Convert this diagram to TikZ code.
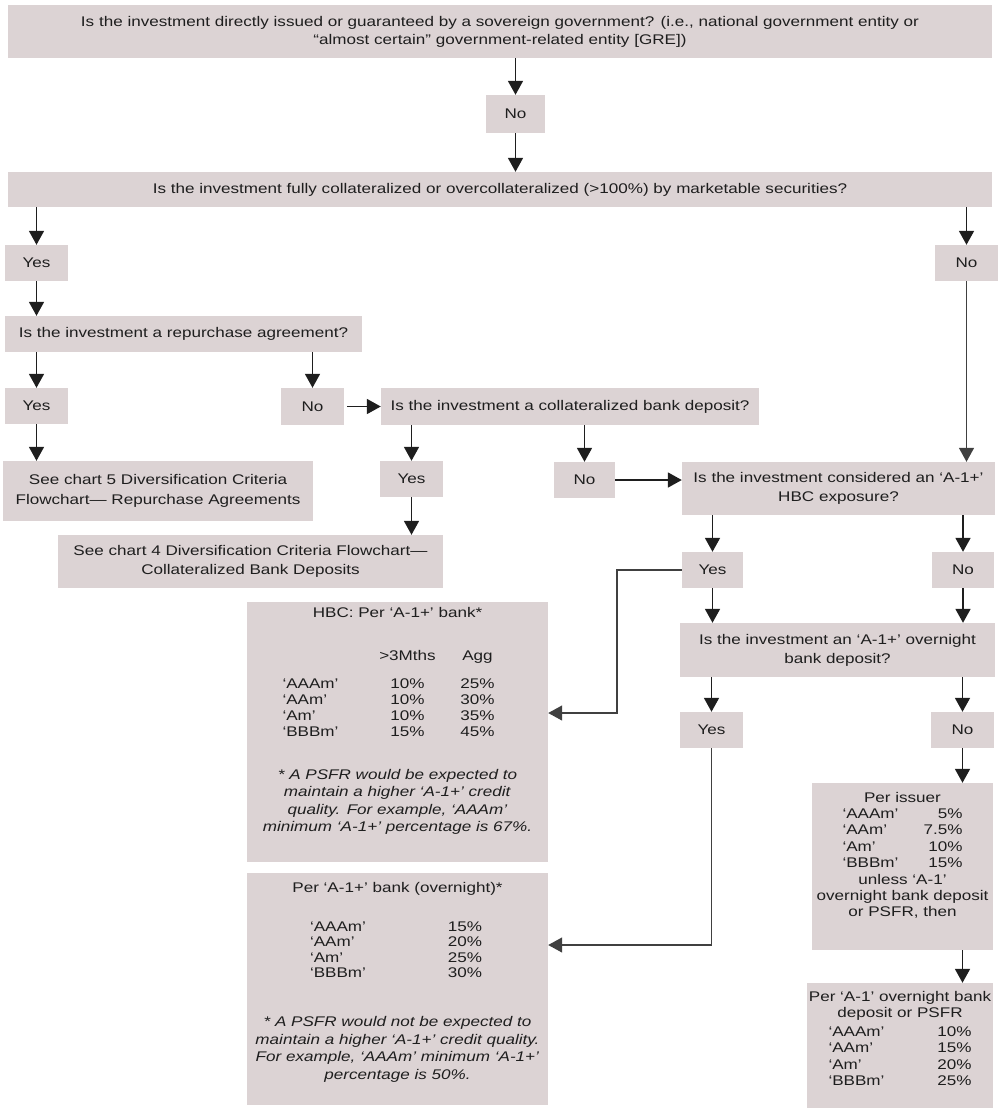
\documentclass[tikz,border=0pt]{standalone}
\usepackage{fontspec}
\setmainfont{Liberation Sans}[FakeStretch=1.22]
\usetikzlibrary{arrows.meta}
\definecolor{boxfill}{RGB}{220,211,212}
\definecolor{inkgray}{RGB}{30,30,30}
% rows of the rating tables
\newcommand{\hbcrow}[3]{\makebox[100pt][l]{#1}\makebox[50pt]{#2}\makebox[20pt]{}\makebox[50pt]{#3}\makebox[10pt]{}}
\newcommand{\ovnrow}[2]{\makebox[135pt][l]{#1}\makebox[40pt]{#2}}
\newcommand{\pairrow}[3]{\makebox[#1pt]{#2\hfill #3}}

\begin{document}
\begin{tikzpicture}[x=1pt,y=-1pt,
  box/.style={fill=boxfill,inner sep=0pt,align=center,text=inkgray,
    font=\fontsize{14}{16}\selectfont},
  sized/.style 2 args={minimum width=#1pt,minimum height=#2pt},
  arr/.style={draw=inkgray,line width=1.8pt,-{Triangle[width=15pt,length=14pt]}},
  link/.style={draw=inkgray!85,line width=1.4pt,-{Triangle[width=15pt,length=14pt]}}]
\useasboundingbox (0,0) rectangle (1000,1109);

% questions and answers
\node[box,sized={984}{53}] (q1) at (500,31.5) {Is the investment directly issued or guaranteed by a sovereign government? (i.e., national government entity or\\[2pt]
  ``almost certain'' government-related entity [GRE])};
\node[box,sized={59}{38}] (no1) at (515.5,114) {No};
\node[box,sized={984}{35}] (q2) at (500,189.5) {Is the investment fully collateralized or overcollateralized (>100\%) by marketable securities?};
\node[box,sized={63}{36}] (yes1) at (36.5,263) {Yes};
\node[box,sized={63}{36}] (no2) at (966.5,263) {No};
\node[box,sized={357}{36}] (q3) at (183.5,334) {Is the investment a repurchase agreement?};
\node[box,sized={63}{36}] (yes2) at (36.5,406) {Yes};
\node[box,sized={63}{37}] (no3) at (312.5,406.5) {No};
\node[box,sized={378}{37}] (q4) at (570,406.5) {Is the investment a collateralized bank deposit?};
\node[box,sized={310}{60}] (chart5) at (158,491) {See chart 5 Diversification Criteria\\[4pt]
  Flowchart--- Repurchase Agreements};
\node[box,sized={63}{36}] (yes3) at (411.5,479) {Yes};
\node[box,sized={61}{36}] (no4) at (584.5,480) {No};
\node[box,sized={313}{53}] (q5) at (838.5,488.5) {Is the investment considered an `A-1+'\\[3pt]
  HBC exposure?};
\node[box,sized={385}{53}] (chart4) at (250.5,561.5) {See chart 4 Diversification Criteria Flowchart---\\[3pt]
  Collateralized Bank Deposits};
\node[box,sized={61}{36}] (yes4) at (712.5,570) {Yes};
\node[box,sized={62}{36}] (no5) at (963,570) {No};
\node[box,sized={315}{54}] (q6) at (837.5,650) {Is the investment an `A-1+' overnight\\[3pt]
  bank deposit?};
\node[box,sized={63}{36}] (yes5) at (711.5,730) {Yes};
\node[box,sized={63}{36}] (no6) at (962.5,730) {No};

% limit tables
\node[box,sized={301}{260}] (hbc) at (397.5,732) {HBC: Per `A-1+' bank*\\[27pt]
  \hbcrow{}{>3Mths}{Agg}\\[12pt]
  \hbcrow{`AAAm'}{10\%}{25\%}\\
  \hbcrow{`AAm'}{10\%}{30\%}\\
  \hbcrow{`Am'}{10\%}{35\%}\\
  \hbcrow{`BBBm'}{15\%}{45\%}\\[27pt]
  \textit{* A PSFR would be expected to}\\[1.5pt]
  \textit{maintain a higher `A-1+' credit}\\[1.5pt]
  \textit{quality. For example, `AAAm'}\\[1.5pt]
  \textit{minimum `A-1+' percentage is 67\%.}\\[9pt]\mbox{}};
\node[box,sized={301}{232}] (ovn) at (397.5,989) {Per `A-1+' bank (overnight)*\\[23pt]
  \ovnrow{`AAAm'}{15\%}\\[-0.5pt]
  \ovnrow{`AAm'}{20\%}\\[-0.5pt]
  \ovnrow{`Am'}{25\%}\\[-0.5pt]
  \ovnrow{`BBBm'}{30\%}\\[33pt]
  \textit{* A PSFR would not be expected to}\\[1.5pt]
  \textit{maintain a higher `A-1+' credit quality.}\\[1.5pt]
  \textit{For example, `AAAm' minimum `A-1+'}\\[1.5pt]
  \textit{percentage is 50\%.}\\[1pt]\mbox{}};
\node[box,sized={181}{167}] (issuer) at (902.5,866.5) {Per issuer\\[0.4pt]
  \pairrow{120}{`AAAm'}{5\%}\\[0.4pt]
  \pairrow{120}{`AAm'}{7.5\%}\\[0.4pt]
  \pairrow{120}{`Am'}{10\%}\\[0.4pt]
  \pairrow{120}{`BBBm'}{15\%}\\[0.4pt]
  unless `A-1'\\[0.4pt]
  overnight bank deposit\\[0.4pt]
  or PSFR, then\\[8pt]\mbox{}};
\node[box,sized={186}{125}] (psfr) at (900,1045.5) {Per `A-1' overnight bank\\
  deposit or PSFR\\[3pt]
  \pairrow{143}{`AAAm'}{10\%}\\[0.5pt]
  \pairrow{143}{`AAm'}{15\%}\\[0.5pt]
  \pairrow{143}{`Am'}{20\%}\\[0.5pt]
  \pairrow{143}{`BBBm'}{25\%}\\[-2pt]\mbox{}};

% connectors
\draw[arr] (no1 |- q1.south) -- (no1.north);
\draw[arr] (no1.south) -- (no1 |- q2.north);
\draw[arr] (yes1 |- q2.south) -- (yes1.north);
\draw[arr] (no2 |- q2.south) -- (no2.north);
\draw[arr] (yes1.south) -- (yes1 |- q3.north);
\draw[arr] (yes2 |- q3.south) -- (yes2.north);
\draw[arr] (no3 |- q3.south) -- (no3.north);
\draw[arr] ([xshift=3pt]no3.east) -- (q4.west);
\draw[arr] (yes2.south) -- (yes2 |- chart5.north);
\draw[arr] (yes3 |- q4.south) -- (yes3.north);
\draw[arr] (no4 |- q4.south) -- (no4.north);
\draw[arr] (yes3.south) -- (yes3 |- chart4.north);
\draw[arr] (no4.east) -- (no4.east -| q5.west);
\draw[link] (no2.south) -- (no2 |- q5.north);
\draw[arr] (yes4 |- q5.south) -- (yes4.north);
\draw[arr] (no5 |- q5.south) -- (no5.north);
\draw[arr] (yes4.south) -- (yes4 |- q6.north);
\draw[arr] (no5.south) -- (no5 |- q6.north);
\draw[arr] (yes5 |- q6.south) -- (yes5.north);
\draw[arr] (no6 |- q6.south) -- (no6.north);
\draw[arr] (no6.south) -- (no6 |- issuer.north);
\draw[arr] (no6 |- issuer.south) -- (no6 |- psfr.north);
\draw[link] (yes4.west) -- ++(-65,0) |- ([yshift=19pt]hbc.east);
\draw[link] (yes5.south) |- ([yshift=44pt]ovn.east);
\end{tikzpicture}
\end{document}
